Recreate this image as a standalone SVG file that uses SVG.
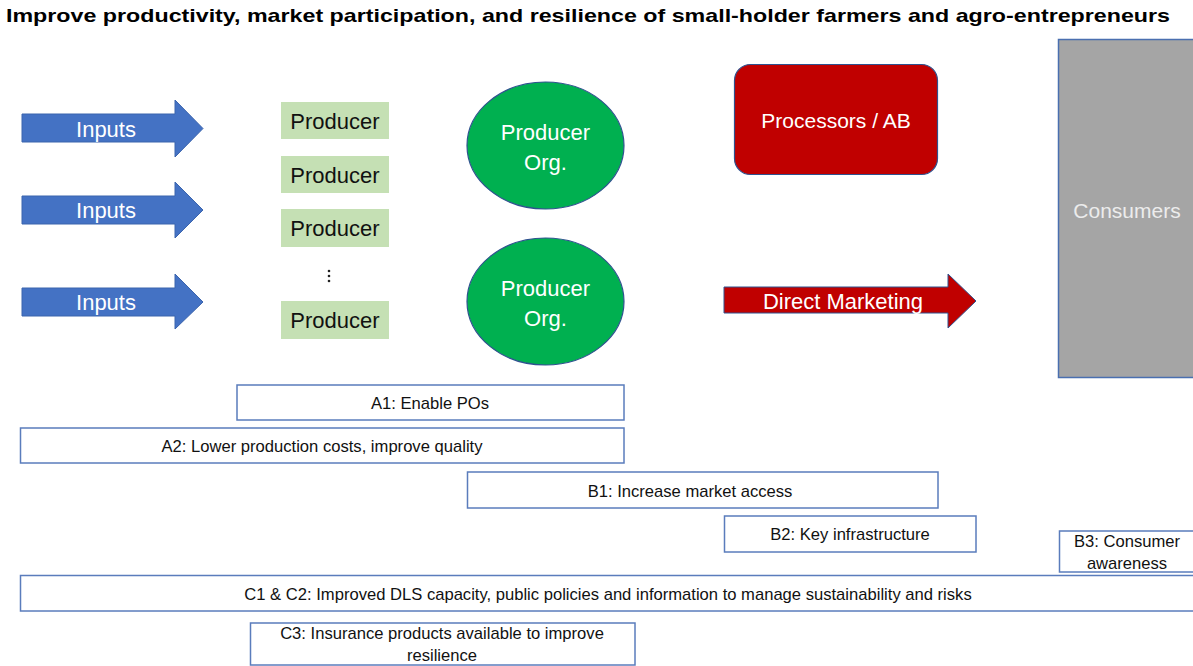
<svg xmlns="http://www.w3.org/2000/svg" width="1193" height="666" viewBox="0 0 1193 666">
  <style>
    .t { font-family: "Liberation Sans", Arial, sans-serif; }
    .title { font-size: 19px; font-weight: bold; fill: #000; }
    .big { font-size: 22px; }
    .wt { fill: #ffffff; }
    .bk { fill: #111111; }
    .arrow-in { fill: #4472C4; stroke: #3b64ad; stroke-width: 1; }
    .arrow-dm { fill: #C00000; stroke: #2F528F; stroke-width: 1; }
    .prod { fill: #C5E0B4; }
    .org { fill: #00B050; stroke: #2F528F; stroke-width: 1.2; }
    .proc { fill: #C00000; stroke: #2F528F; stroke-width: 1.2; }
    .cons { fill: #A5A5A5; stroke: #4a6fb0; stroke-width: 1.5; }
    .lbl { fill: #ffffff; stroke: #5a7cbc; stroke-width: 1.5; }
    .lt { font-size: 16.6px; fill: #111111; }
  </style>

  <rect width="1193" height="666" fill="#ffffff"/>

  <text class="t title" x="6" y="22" textLength="1164" lengthAdjust="spacingAndGlyphs">Improve productivity, market participation, and resilience of small-holder farmers and agro-entrepreneurs</text>

  <!-- input flows and direct marketing arrows -->
  <g id="connectors">
    <g id="inputs-1">
      <path class="arrow-in" d="M22,114 H175 V100 L203,128.5 L175,157 V142 H22 Z"/>
      <text class="t big wt" x="106" y="136.5" text-anchor="middle">Inputs</text>
    </g>
    <g id="inputs-2">
      <path class="arrow-in" d="M22,196 H175 V182 L203,210 L175,238 V224 H22 Z"/>
      <text class="t big wt" x="106" y="218" text-anchor="middle">Inputs</text>
    </g>
    <g id="inputs-3">
      <path class="arrow-in" d="M22,288 H175 V274 L203,302 L175,329 V316 H22 Z"/>
      <text class="t big wt" x="106" y="310" text-anchor="middle">Inputs</text>
    </g>
    <g id="direct-marketing">
      <path class="arrow-dm" d="M724,287 H948 V274 L976,301 L948,328 V313 H724 Z"/>
      <text class="t big wt" x="843" y="309" text-anchor="middle">Direct Marketing</text>
    </g>
  </g>

  <!-- producers -->
  <g id="producer-1">
    <rect class="prod" x="281" y="102" width="108" height="37"/>
    <text class="t big bk" x="335" y="128.5" text-anchor="middle">Producer</text>
  </g>
  <g id="producer-2">
    <rect class="prod" x="281" y="156" width="108" height="37"/>
    <text class="t big bk" x="335" y="182.5" text-anchor="middle">Producer</text>
  </g>
  <g id="producer-3">
    <rect class="prod" x="281" y="209" width="108" height="38"/>
    <text class="t big bk" x="335" y="236" text-anchor="middle">Producer</text>
  </g>
  <g id="producer-ellipsis">
    <circle cx="329" cy="271" r="1.3" fill="#222"/>
    <circle cx="329" cy="276" r="1.3" fill="#222"/>
    <circle cx="329" cy="281" r="1.3" fill="#222"/>
  </g>
  <g id="producer-4">
    <rect class="prod" x="281" y="301" width="108" height="38"/>
    <text class="t big bk" x="335" y="328" text-anchor="middle">Producer</text>
  </g>

  <!-- producer organisations -->
  <g id="producer-org-1">
    <ellipse class="org" cx="545.5" cy="145.5" rx="78.5" ry="63.5"/>
    <text class="t big wt" x="545.5" y="140" text-anchor="middle">Producer</text>
    <text class="t big wt" x="545.5" y="170" text-anchor="middle">Org.</text>
  </g>
  <g id="producer-org-2">
    <ellipse class="org" cx="545.5" cy="301.5" rx="78.5" ry="63.5"/>
    <text class="t big wt" x="545.5" y="296" text-anchor="middle">Producer</text>
    <text class="t big wt" x="545.5" y="326" text-anchor="middle">Org.</text>
  </g>

  <g id="processors">
    <rect class="proc" x="734.5" y="64.5" width="203" height="110" rx="16"/>
    <text class="t wt" font-size="21" x="836" y="128" text-anchor="middle">Processors / AB</text>
  </g>

  <g id="consumers">
    <rect class="cons" x="1058.5" y="39.5" width="140" height="338"/>
    <text class="t" font-size="21" fill="#ececec" x="1127" y="218" text-anchor="middle">Consumers</text>
  </g>

  <!-- intervention bands -->
  <g id="a1">
    <rect class="lbl" x="237" y="385" width="387" height="35"/>
    <text class="t lt" x="430" y="408.5" text-anchor="middle">A1: Enable POs</text>
  </g>
  <g id="a2">
    <rect class="lbl" x="20.5" y="428" width="603.5" height="35"/>
    <text class="t lt" x="322" y="452" text-anchor="middle">A2: Lower production costs, improve quality</text>
  </g>
  <g id="b1">
    <rect class="lbl" x="467.5" y="472" width="470.5" height="36"/>
    <text class="t lt" x="690" y="496.5" text-anchor="middle">B1: Increase market access</text>
  </g>
  <g id="b2">
    <rect class="lbl" x="724.5" y="516" width="251.5" height="36"/>
    <text class="t lt" x="850" y="540" text-anchor="middle">B2: Key infrastructure</text>
  </g>
  <g id="b3">
    <rect class="lbl" x="1059.5" y="531" width="140" height="41"/>
    <text class="t lt" x="1127" y="547" text-anchor="middle">B3: Consumer</text>
    <text class="t lt" x="1127" y="569" text-anchor="middle">awareness</text>
  </g>
  <g id="c1-c2">
    <rect class="lbl" x="20.5" y="575.5" width="1180" height="35.5"/>
    <text class="t lt" x="608" y="599.5" text-anchor="middle">C1 &amp; C2: Improved DLS capacity, public policies and information to manage sustainability and risks</text>
  </g>
  <g id="c3">
    <rect class="lbl" x="250.5" y="623" width="384.5" height="42"/>
    <text class="t lt" x="442" y="639" text-anchor="middle">C3: Insurance products available to improve</text>
    <text class="t lt" x="442" y="661" text-anchor="middle">resilience</text>
  </g>
</svg>
